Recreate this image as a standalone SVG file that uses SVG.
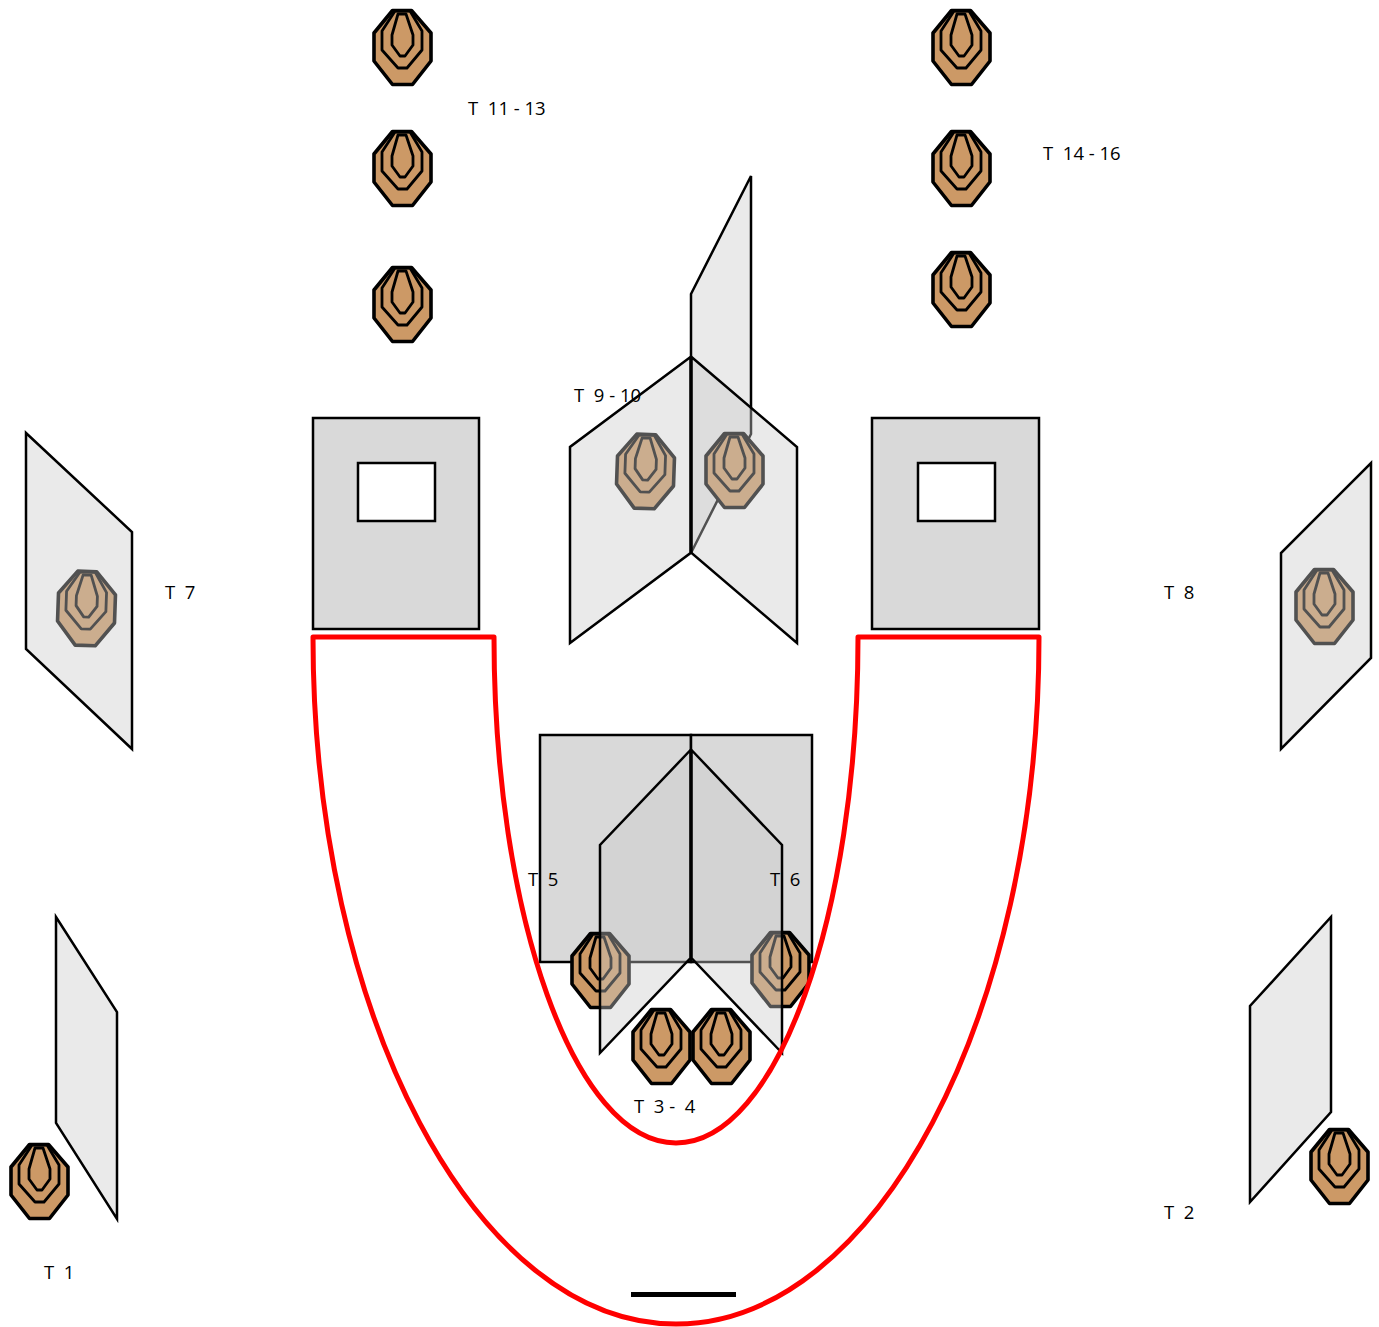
<svg xmlns="http://www.w3.org/2000/svg" width="1379" height="1327" viewBox="0 0 1379 1327">
<style>
text{font-family:"Open Sans","Noto Sans","Liberation Sans",sans-serif;font-size:18.5px;fill:#000;white-space:pre}
.wall{stroke:#000;stroke-width:2.5;stroke-linejoin:miter;fill:#cacaca;fill-opacity:.4}
.solid{stroke:#000;stroke-width:2.5;fill:#d9d9d9}
.win{stroke:#000;stroke-width:2.5;fill:#fff}
.outer{fill:#cc9966;stroke:#000;stroke-width:3.6;stroke-linejoin:round}
.ring{fill:none;stroke:#000;stroke-width:2.8;stroke-linejoin:round}
.red{fill:none;stroke:#ff0000;stroke-width:5;stroke-linejoin:round}
</style>
<defs>
<g id="target">
<polygon class="outer" points="19.5,1.5 38.5,1.5 58,24 58,52 39.5,75.5 19.5,75.5 1,52 1,24"/>
<polygon class="ring" points="22,2 37,2 49,22 49,41 34,59 25,59 9,41 9,22"/>
<polygon class="ring" points="25,5 33,5 40,26 40,36 32,47 27,47 19,36 19,26"/>
</g>
</defs>
<g id="t1-panel"><polygon class="wall" points="56,917 117,1012 117,1219 56,1123"/></g>
<g id="t2-panel"><polygon class="wall" points="1331,917 1331,1112 1250,1202 1250,1006"/></g>
<g id="t9-far-panel"><polygon class="wall" points="691,294 751,176 751,434 691,553"/></g>
<g id="window-left"><rect class="solid" x="313" y="418" width="166" height="211"/><rect class="win" x="358" y="463" width="77" height="58"/></g>
<g id="window-right"><rect class="solid" x="872" y="418" width="167" height="211"/><rect class="win" x="918" y="463" width="77" height="58"/></g>
<g id="center-panels"><rect class="solid" x="540" y="735" width="151" height="227"/><rect class="solid" x="691" y="735" width="121" height="227"/></g>
<g id="targets">
<use id="T11" href="#target" x="373" y="9"/>
<use id="T12" href="#target" x="373" y="130"/>
<use id="T13" href="#target" x="373" y="266"/>
<use id="T14" href="#target" x="932" y="9"/>
<use id="T15" href="#target" x="932" y="130"/>
<use id="T16" href="#target" x="932" y="251"/>
<use id="T1" href="#target" x="10" y="1143"/>
<use id="T2" href="#target" x="1310" y="1128"/>
<use id="T3" href="#target" x="632" y="1008"/>
<use id="T4" href="#target" x="692" y="1008"/>
<use id="T5" href="#target" x="571" y="932"/>
<use id="T6" href="#target" x="751" y="931"/>
<use id="T7" href="#target" transform="rotate(2 87 608)" x="57" y="570"/>
<use id="T8" href="#target" x="1295" y="568"/>
<use id="T9" href="#target" transform="rotate(2 646 471)" x="616" y="433"/>
<use id="T10" href="#target" x="705" y="432"/>
</g>
<g id="overlay-walls">
<polygon class="wall" points="26,433 132,532 132,749 26,649"/>
<polygon class="wall" points="1371,463 1371,658 1281,749 1281,553"/>
<polygon class="wall" points="690.5,357 570,447 570,643 690.5,553"/>
<polygon class="wall" points="691.5,357 797,447 797,643 691.5,553"/>
<polygon class="wall" points="690.5,750 600,845 600,1053 690.5,958"/>
<polygon class="wall" points="691.5,750 782,845 782,1053 691.5,958"/>
</g>
<g id="connectors">
<path class="red" d="M313,637H494C494,916 575,1143 676,1143C777,1143 858,916 858,637H1039C1039,1016 876,1324 676,1324C476,1324 313,1016 313,637Z"/>
<line x1="631" y1="1294.5" x2="736" y2="1294.5" stroke="#000" stroke-width="5"/>
</g>
<g id="labels">
<text x="468" y="115">T  11 - 13</text>
<text x="1043" y="160">T  14 - 16</text>
<text x="574" y="402">T  9 - 10</text>
<text x="165" y="599">T  7</text>
<text x="1164" y="599">T  8</text>
<text x="528" y="886">T  5</text>
<text x="770" y="886">T  6</text>
<text x="634" y="1113">T  3 -  4</text>
<text x="1164" y="1219">T  2</text>
<text x="44" y="1279">T  1</text>
</g>
</svg>
